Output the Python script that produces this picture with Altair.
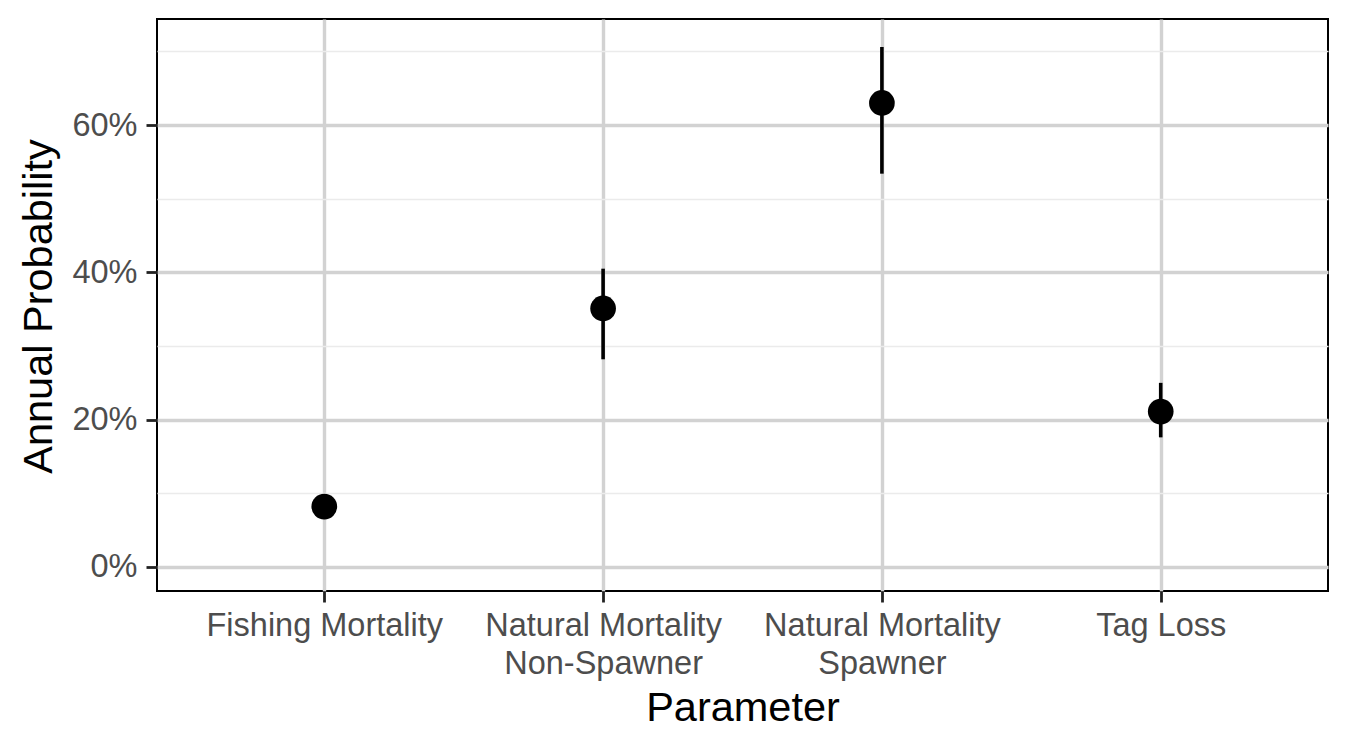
import altair as alt
import pandas as pd

params = [
    "Fishing Mortality",
    "Natural Mortality\nNon-Spawner",
    "Natural Mortality\nSpawner",
    "Tag Loss",
]
estimate = [0.082, 0.351, 0.630, 0.211]
lower = [0.070, 0.282, 0.534, 0.176]
upper = [0.096, 0.405, 0.706, 0.250]
y_ticks = [0.0, 0.1, 0.2, 0.3, 0.4, 0.5, 0.6, 0.7]

df = pd.DataFrame({"param": params, "est": estimate, "lo": lower, "hi": upper})

MAJOR = "#d2d2d2"
MINOR = "#ebebeb"
minor_test = "round(datum.value*100) % 20 != 0"

x = alt.X(
    "param:N",
    sort=params,
    title="Parameter",
    scale=alt.Scale(type="point", padding=0.6),
    axis=alt.Axis(
        labelExpr="split(datum.label, '\\n')",
        labelAngle=0,
        labelFontSize=32.5,
        labelColor="#4d4d4d",
        labelLineHeight=38,
        labelPadding=7,
        labelBaseline="top",
        labelLimit=0,
        tickSize=11,
        tickWidth=2.8,
        tickColor="#222222",
        domain=False,
        grid=True,
        gridColor=MAJOR,
        gridWidth=3.4,
        titleFontSize=41.5,
        titleFontWeight="normal",
        titleColor="black",
        titleBaseline="alphabetic",
        titleY=129,
    ),
)

y_scale = alt.Scale(domain=[-0.0326, 0.744], nice=False, zero=False)
y_axis = alt.Axis(
    values=y_ticks,
    labelExpr="round(datum.value*100) % 20 == 0 ? format(datum.value, '.0%') : ''",
    labelFontSize=32.5,
    labelColor="#4d4d4d",
    labelPadding=9,
    tickSize=11,
    tickWidth=2.8,
    tickColor={"condition": {"test": minor_test, "value": "transparent"}, "value": "#222222"},
    domain=False,
    grid=True,
    gridColor={"condition": {"test": minor_test, "value": MINOR}, "value": MAJOR},
    gridWidth={"condition": {"test": minor_test, "value": 1.7}, "value": 3.4},
    titleFontSize=41.5,
    titleFontWeight="normal",
    titleColor="black",
    titleBaseline="alphabetic",
    titleX=-106,
    titleY=287,
)

base = alt.Chart(df)
bars = base.mark_rule(color="black", strokeWidth=3.6).encode(
    x=x,
    y=alt.Y("lo:Q", title="Annual Probability", scale=y_scale, axis=y_axis),
    y2="hi:Q",
)
points = base.mark_circle(color="black", opacity=1, size=660).encode(
    x=x,
    y=alt.Y("est:Q", title="Annual Probability", scale=y_scale, axis=y_axis),
)

chart = (
    alt.layer(bars, points)
    .properties(
        width=1171,
        height=572,
        padding={"left": 157, "top": 19, "right": 22, "bottom": 159},
        autosize=alt.AutoSizeParams(type="none"),
    )
    .configure(font="Liberation Sans")
    .configure_view(stroke="black", strokeWidth=2)
)

chart.save("out.html", embed_options={"renderer": "svg", "actions": False})
